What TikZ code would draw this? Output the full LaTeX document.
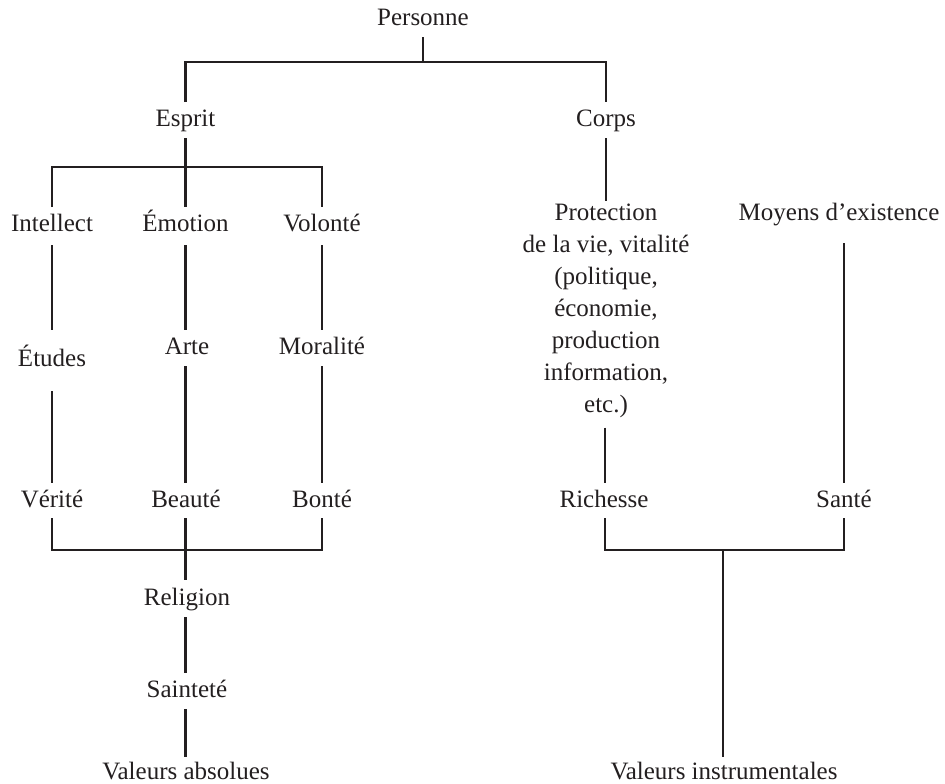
\documentclass[tikz,border=0pt]{standalone}
\usepackage{fontspec}
\setmainfont{Liberation Serif}
\usetikzlibrary{calc}
\definecolor{ink}{HTML}{231F20}
\begin{document}
\begin{tikzpicture}[x=0.5pt,y=-0.5pt,
  lbl/.style={anchor=base,inner sep=0pt,text=ink,font=\fontsize{12.5pt}{16pt}\selectfont},
  conn/.style={draw=ink,line width=1.35pt}]
\useasboundingbox (0,0) rectangle (945,783);
% nodes
\node[lbl] (personne) at (423,25) {Personne};
\node[lbl] (esprit) at (185.5,126) {Esprit};
\node[lbl] (corps) at (606,126) {Corps};
\node[lbl] (intellect) at (52,231) {Intellect};
\node[lbl] (emotion) at (185.5,231) {Émotion};
\node[lbl] (volonte) at (322,231) {Volonté};
\node[lbl,align=center] (protection) at (606,412) {Protection\\de la vie, vitalité\\(politique,\\économie,\\production\\information,\\etc.)};
\node[lbl] (moyens) at (839,220) {Moyens d’existence};
\node[lbl] (etudes) at (52,366) {Études};
\node[lbl] (arte) at (187,354) {Arte};
\node[lbl] (moralite) at (322,354) {Moralité};
\node[lbl] (verite) at (52,507) {Vérité};
\node[lbl] (beaute) at (186,507) {Beauté};
\node[lbl] (bonte) at (322,507) {Bonté};
\node[lbl] (richesse) at (604,507) {Richesse};
\node[lbl] (sante) at (844,507) {Santé};
\node[lbl] (religion) at (187,605) {Religion};
\node[lbl] (saintete) at (187,697) {Sainteté};
\node[lbl] (vabs) at (186,779) {Valeurs absolues};
\node[lbl] (vinst) at (724,779) {Valeurs instrumentales};
% junctions
\coordinate (j1) at (423,62);
\coordinate (j2) at (185.5,167);
\coordinate (j3) at (185.5,550);
\coordinate (j4) at (723,550);
% connectors
\draw[conn] ($(personne.base)+(0,12)$) -- (j1);
\draw[conn] ($(esprit.base)+(0,-24)$) |- (j1) -| ($(corps.base)+(0,-24)$);
\draw[conn] ($(esprit.base)+(0,12)$) -- (j2);
\draw[conn] ($(intellect.base)+(0,-24)$) |- (j2) -| ($(volonte.base)+(0,-24)$);
\draw[conn] (j2) -- ($(emotion.base)+(0,-24)$);
\draw[conn] ($(corps.base)+(0,12)$) -- ($(protection.north)+(0,-2)$);
\draw[conn] ($(intellect.base)+(0,14)$) -- ($(etudes.base)+(0,-36)$);
\draw[conn] ($(emotion.base)+(0,14)$) -- ($(arte.base)+(-1.5,-24)$);
\draw[conn] ($(volonte.base)+(0,14)$) -- ($(moralite.base)+(0,-24)$);
\draw[conn] ($(etudes.base)+(0,25)$) -- ($(verite.base)+(0,-24)$);
\draw[conn] ($(arte.base)+(-1.5,12)$) -- ($(beaute.base)+(-0.5,-24)$);
\draw[conn] ($(moralite.base)+(0,12)$) -- ($(bonte.base)+(0,-24)$);
\draw[conn] ($(moyens.base)+(5,23)$) -- ($(sante.base)+(0,-24)$);
\draw[conn] ($(protection.south)+(-1,10)$) -- ($(richesse.base)+(1,-24)$);
\draw[conn] ($(verite.base)+(0,11)$) |- (j3) -| ($(bonte.base)+(0,11)$);
\draw[conn] ($(beaute.base)+(-0.5,11)$) -- ($(religion.base)+(-1.5,-25)$);
\draw[conn] ($(religion.base)+(-1.5,12)$) -- ($(saintete.base)+(-1.5,-24)$);
\draw[conn] ($(saintete.base)+(-1.5,12)$) -- ($(vabs.base)+(-0.5,-22)$);
\draw[conn] ($(richesse.base)+(1,11)$) |- (j4) -| ($(sante.base)+(0,11)$);
\draw[conn] (j4) -- ($(vinst.base)+(-1,-22)$);
\end{tikzpicture}
\end{document}
